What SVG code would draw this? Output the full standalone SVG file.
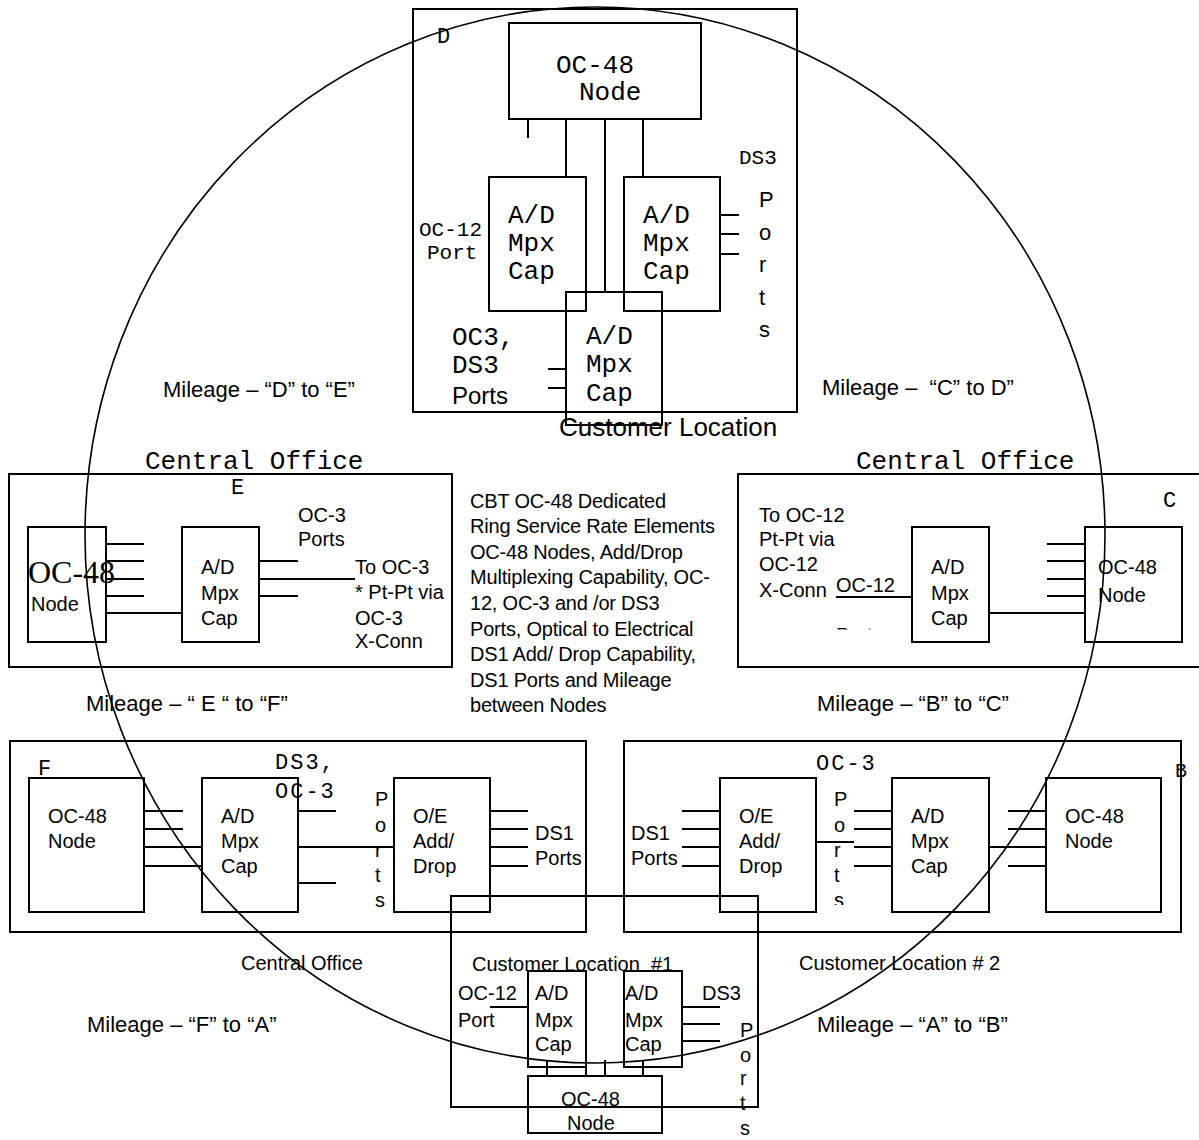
<svg xmlns="http://www.w3.org/2000/svg" width="1199" height="1140" viewBox="0 0 1199 1140">
<style>
.b{fill:none;stroke:#000;stroke-width:2}
.l{stroke:#000;stroke-width:2;fill:none}
.ring{fill:none;stroke:#000;stroke-width:1.6}
text{fill:#000}
.m{font-family:"Liberation Mono","DejaVu Sans Mono",monospace}
.s{font-family:"Liberation Sans",Arial,sans-serif}
.r{font-family:"Liberation Serif","Times New Roman",serif}
.m26{font-size:26px}
.m21{font-size:21px}
.m20{font-size:20px}
.s20{font-size:20px}
.s22{font-size:22px}
.cbt{font-size:20px;letter-spacing:-0.2px}
</style>
<defs>
<clipPath id="clipC"><rect x="820" y="600" width="80" height="29.5"/></clipPath>
<clipPath id="clipB"><rect x="820" y="890" width="40" height="15"/></clipPath>
</defs>
<rect width="1199" height="1140" fill="#fff"/>

<g id="site-D">
<rect class="b" x="413" y="9" width="384" height="403"/>
<text class="m" font-size="22" x="437" y="43">D</text>
<g id="D-node">
<rect class="b" x="509" y="23" width="192" height="96"/>
<text class="m m26" x="556" y="73">OC-48</text>
<text class="m m26" x="579" y="100">Node</text>
</g>
<g id="D-adm-left">
<rect class="b" x="489" y="177" width="97" height="134"/>
<text class="m m26" x="508" y="223">A/D</text>
<text class="m m26" x="508" y="251">Mpx</text>
<text class="m m26" x="508" y="279">Cap</text>
</g>
<g id="D-adm-right">
<rect class="b" x="624" y="177" width="96" height="134"/>
<text class="m m26" x="643" y="223">A/D</text>
<text class="m m26" x="643" y="251">Mpx</text>
<text class="m m26" x="643" y="279">Cap</text>
</g>
<g id="D-adm-bottom">
<rect class="b" x="566" y="292" width="96" height="133"/>
<text class="m m26" x="586" y="344">A/D</text>
<text class="m m26" x="586" y="372">Mpx</text>
<text class="m m26" x="586" y="401">Cap</text>
</g>
<text class="m m21" x="419" y="236">OC-12</text>
<text class="m m21" x="427" y="259">Port</text>
<text class="m m21" x="739" y="164">DS3</text>
<text class="s s22" x="759" y="207">P</text>
<text class="s s22" x="759" y="240">o</text>
<text class="s s22" x="759" y="272">r</text>
<text class="s s22" x="759" y="305">t</text>
<text class="s s22" x="759" y="337">s</text>
<text class="m m26" x="452" y="345">OC3,</text>
<text class="m m26" x="452" y="373">DS3</text>
<text class="s" font-size="24" x="452" y="404">Ports</text>
<text class="s" font-size="26" x="559" y="436">Customer Location</text>
</g>

<g id="site-E">
<text class="m m26" x="145" y="469">Central Office</text>
<rect class="b" x="9" y="474" width="443" height="193"/>
<text class="m" font-size="22" x="231" y="494">E</text>
<g id="E-node">
<rect class="b" x="28" y="527" width="78" height="115"/>
<text class="r" font-size="32" x="28" y="583">OC-48</text>
<text class="s s20" x="31" y="611">Node</text>
</g>
<g id="E-adm">
<rect class="b" x="182" y="527" width="77" height="115"/>
<text class="s s20" x="201" y="574">A/D</text>
<text class="s s20" x="201" y="600">Mpx</text>
<text class="s s20" x="201" y="625">Cap</text>
</g>
<text class="s s20" x="298" y="522">OC-3</text>
<text class="s s20" x="298" y="546">Ports</text>
<text class="s s20" x="355" y="574">To OC-3</text>
<text class="s s20" x="355" y="599">* Pt-Pt via</text>
<text class="s s20" x="355" y="625">OC-3</text>
<text class="s s20" x="355" y="648">X-Conn</text>
</g>

<g id="site-C">
<text class="m m26" x="856" y="469">Central Office</text>
<rect class="b" x="738" y="474" width="470" height="193"/>
<text class="m" font-size="22" x="1163" y="507">C</text>
<text class="s s20" x="759" y="522">To OC-12</text>
<text class="s s20" x="759" y="546">Pt-Pt via</text>
<text class="s s20" x="759" y="571">OC-12</text>
<text class="s s20" x="759" y="597">X-Conn</text>
<text class="s s20" x="836" y="592">OC-12</text>
<text class="s s20" x="836" y="642" clip-path="url(#clipC)">Ports</text>
<g id="C-adm">
<rect class="b" x="912" y="527" width="77" height="115"/>
<text class="s s20" x="931" y="574">A/D</text>
<text class="s s20" x="931" y="600">Mpx</text>
<text class="s s20" x="931" y="625">Cap</text>
</g>
<g id="C-node">
<rect class="b" x="1085" y="527" width="97" height="115"/>
<text class="s s20" x="1098" y="574">OC-48</text>
<text class="s s20" x="1098" y="602">Node</text>
</g>
</g>

<g id="info">
<text class="s cbt" x="470" y="508">CBT OC-48 Dedicated</text>
<text class="s cbt" x="470" y="533">Ring Service Rate Elements</text>
<text class="s cbt" x="470" y="559">OC-48 Nodes, Add/Drop</text>
<text class="s cbt" x="470" y="584">Multiplexing Capability, OC-</text>
<text class="s cbt" x="470" y="610">12, OC-3 and /or DS3</text>
<text class="s cbt" x="470" y="636">Ports, Optical to Electrical</text>
<text class="s cbt" x="470" y="661">DS1 Add/ Drop Capability,</text>
<text class="s cbt" x="470" y="687">DS1 Ports and Mileage</text>
<text class="s cbt" x="470" y="712">between Nodes</text>
</g>

<g id="site-F">
<rect class="b" x="10" y="741" width="576" height="191"/>
<text class="m" font-size="22" x="38" y="775">F</text>
<g id="F-node">
<rect class="b" x="29" y="778" width="115" height="134"/>
<text class="s s20" x="48" y="823">OC-48</text>
<text class="s s20" x="48" y="848">Node</text>
</g>
<g id="F-adm">
<rect class="b" x="202" y="778" width="96" height="134"/>
<text class="s s20" x="221" y="823">A/D</text>
<text class="s s20" x="221" y="848">Mpx</text>
<text class="s s20" x="221" y="873">Cap</text>
</g>
<text class="m" font-size="22" letter-spacing="2" x="275" y="769">DS3,</text>
<text class="m" font-size="22" letter-spacing="2" x="275" y="798">OC-3</text>
<text class="s s20" x="375" y="806">P</text>
<text class="s s20" x="375" y="832">o</text>
<text class="s s20" x="375" y="857">r</text>
<text class="s s20" x="375" y="882">t</text>
<text class="s s20" x="375" y="907">s</text>
<g id="F-oe">
<rect class="b" x="394" y="778" width="96" height="134"/>
<text class="s s20" x="413" y="823">O/E</text>
<text class="s s20" x="413" y="848">Add/</text>
<text class="s s20" x="413" y="873">Drop</text>
</g>
<text class="s s20" x="535" y="840">DS1</text>
<text class="s s20" x="535" y="865">Ports</text>
<text class="s s20" x="241" y="970">Central Office</text>
</g>

<g id="site-B">
<rect class="b" x="624" y="741" width="557" height="191"/>
<text class="m" font-size="22" letter-spacing="2" x="816" y="770">OC-3</text>
<text class="m m20" x="1175" y="777">B</text>
<g id="B-oe">
<rect class="b" x="720" y="778" width="96" height="134"/>
<text class="s s20" x="739" y="823">O/E</text>
<text class="s s20" x="739" y="848">Add/</text>
<text class="s s20" x="739" y="873">Drop</text>
</g>
<text class="s s20" x="631" y="840">DS1</text>
<text class="s s20" x="631" y="865">Ports</text>
<text class="s s20" x="834" y="806">P</text>
<text class="s s20" x="834" y="832">o</text>
<text class="s s20" x="834" y="857">r</text>
<text class="s s20" x="834" y="882">t</text>
<text class="s s20" x="834" y="907" clip-path="url(#clipB)">s</text>
<g id="B-adm">
<rect class="b" x="892" y="778" width="97" height="134"/>
<text class="s s20" x="911" y="823">A/D</text>
<text class="s s20" x="911" y="848">Mpx</text>
<text class="s s20" x="911" y="873">Cap</text>
</g>
<g id="B-node">
<rect class="b" x="1046" y="778" width="115" height="134"/>
<text class="s s20" x="1065" y="823">OC-48</text>
<text class="s s20" x="1065" y="848">Node</text>
</g>
<text class="s s20" x="799" y="970">Customer Location # 2</text>
</g>

<g id="site-A">
<rect class="b" x="451" y="896" width="307" height="211"/>
<text class="s s20" x="472" y="971" xml:space="preserve">Customer Location  #1</text>
<g id="A-adm-left">
<rect class="b" x="528" y="971" width="58" height="96"/>
<text class="s s20" x="535" y="1000">A/D</text>
<text class="s s20" x="535" y="1027">Mpx</text>
<text class="s s20" x="535" y="1051">Cap</text>
</g>
<g id="A-adm-right">
<rect class="b" x="624" y="971" width="58" height="96"/>
<text class="s s20" x="625" y="1000">A/D</text>
<text class="s s20" x="625" y="1027">Mpx</text>
<text class="s s20" x="625" y="1051">Cap</text>
</g>
<text class="s s20" x="458" y="1000">OC-12</text>
<text class="s s20" x="458" y="1027">Port</text>
<text class="s s20" x="702" y="1000">DS3</text>
<text class="s s20" x="740" y="1037">P</text>
<text class="s s20" x="740" y="1062">o</text>
<text class="s s20" x="740" y="1085">r</text>
<text class="s s20" x="740" y="1110">t</text>
<text class="s s20" x="740" y="1135">s</text>
<g id="A-node">
<rect class="b" x="528" y="1076" width="134" height="57"/>
<text class="s s20" x="561" y="1106">OC-48</text>
<text class="s s20" x="567" y="1130">Node</text>
</g>
</g>

<g id="mileage">
<text class="s s22" x="163" y="397">Mileage – “D” to “E”</text>
<text class="s s22" x="822" y="395" xml:space="preserve">Mileage –  “C” to D”</text>
<text class="s s22" x="86" y="711">Mileage – “ E “ to “F”</text>
<text class="s s22" x="817" y="711">Mileage – “B” to “C”</text>
<text class="s s22" x="87" y="1032">Mileage – “F” to “A”</text>
<text class="s s22" x="817" y="1032">Mileage – “A” to “B”</text>
</g>

<g id="connectors">
<ellipse class="ring" cx="595" cy="535" rx="510" ry="528"/>
<path class="l" d="M528 119V138M566 119V177M605 119V292M643 119V177"/>
<path class="l" d="M720 215H739M720 234H739M720 254H739"/>
<path class="l" d="M548 369H566M548 388H566"/>
<path class="l" d="M106 544H144M106 561H144M106 579H144M106 596H144M106 613H182"/>
<path class="l" d="M259 561H298M259 596H298M259 579H355"/>
<path class="l" d="M836 597H912M989 613H1085"/>
<path class="l" d="M1047 544H1085M1047 561H1085M1047 579H1085M1047 596H1085"/>
<path class="l" d="M144 811H183M144 829H183M144 847H202M144 866H202"/>
<path class="l" d="M298 811H336M298 847H394M298 883H336"/>
<path class="l" d="M490 811H528M490 829H528M490 847H528M490 866H528"/>
<path class="l" d="M682 811H720M682 829H720M682 847H720M682 866H720"/>
<path class="l" d="M816 842H854M854 811H892M854 829H892M854 847H892M854 866H892"/>
<path class="l" d="M989 847H1046M1008 811H1046M1008 829H1046M1008 866H1046"/>
<path class="l" d="M490 1007H528M682 1007H720M682 1024H720M682 1041H720"/>
<path class="l" d="M547 1060V1076M586 1067V1076M605 1060V1076M643 1060V1076"/>
</g>
</svg>
